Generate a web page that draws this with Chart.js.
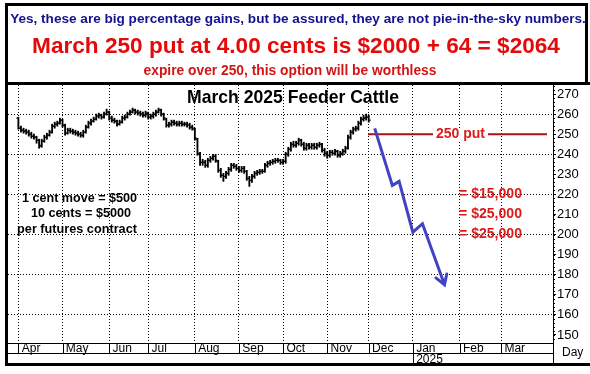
<!DOCTYPE html>
<html>
<head>
<meta charset="utf-8">
<script src="https://cdn.jsdelivr.net/npm/chart.js@4.4.1/dist/chart.umd.min.js"></script>
<style>
  body { margin: 0; background: #fff; }
  canvas { display: block; }
</style>
</head>
<body>
<canvas id="myChart" width="590" height="374"></canvas>
<script>
// March 2025 Feeder Cattle - daily bars, Apr to end of Nov 2024 (x = bar number)
const opens = [258,253,252,251.5,251,250,249,248.5,247,244.5,
  246.5,248.5,249.5,251,254,255,255.5,257,254.5,250.5,
  252,251.5,251,250.5,250,249.5,251,253.5,255.5,256.5,
  257.5,259,259.5,258.5,260,261,258,257,256.5,255,
  256,258,258.5,260,261,262,261,260.5,260,259.5,
  260.5,258.5,259,260,261,262,260,257.5,254.5,255,
  256,255.5,255,255.5,255,255,254.5,253.5,252.5,247.5,
  240,236,236,234.5,237,238,239,236.5,232,229.5,
  229,230.5,232.5,234.5,234,233,232,233,231.5,228,
  227,229,230.5,231,231.5,231.5,234.5,235.5,236,236.5,
  237,237,236,236.5,240,242.5,245,244.5,245.5,247,
  245,243,244.5,243.5,244.5,243.5,244.5,245,242,240.5,
  239.5,241,240.5,241.5,239.5,240.5,241.5,243,248.5,251,
  252.5,253,255.5,257.5,258,258.5]
const highs = [258.5,254,253,252.5,252,251,250,249,247.5,247.5,
  249.5,250.5,252,255,256,256.5,258,257.5,255,253,
  253,252.5,252,251.5,251,252,254.5,256.5,257.5,258.5,
  260,260.5,260,261,262.5,261.5,259,258,257,257,
  259,259.5,261,262,263,262.5,262,261.5,261,261.5,
  261,260,261,262,263,262.5,260.5,258,256,257,
  257,256.5,256.5,256.5,256,256,255.5,254.5,253,248,
  241,237.5,237,238,239,240,240,237,233,230.5,
  231.5,233.5,235.5,235.5,235,234,234,234,232,229,
  230,231.5,232,232.5,232.5,235.5,236.5,237,237.5,238,
  238,237.5,237.5,241,243.5,246,246.5,246.5,248,247.5,
  246,245.5,245.5,245.5,245.5,245.5,246,245.5,243,241.5,
  242,242,242.5,242,241.5,242.5,244,249.5,252,253.5,
  254,256.5,258.5,259.5,260,259.5]
const lows = [252.5,251,250.5,250,249,248,247.5,245.5,243,243.5,
  246,247.5,249,250.5,253,254,255,253.5,249.5,250,
  250.5,250,249.5,249,248.5,248.5,250.5,253,254.5,256,
  257,258,257.5,258,259.5,257,256,255.5,254,254.5,
  255.5,257,258,259.5,260.5,260,259.5,259,258.5,258.5,
  257.5,257.5,258,259,260.5,259,257,253.5,253.5,254,
  254.5,254,254,254,254,253.5,252.5,252,247,239.5,
  234.5,234.5,233.5,233.5,236,237,236,231,228.5,226.5,
  228,229.5,231.5,233,232,231,231,230.5,227,224,
  226,228,229.5,230,230.5,231,233.5,234.5,235,235.5,
  236,235,235,235.5,239,241.5,243.5,243.5,244.5,244,
  242,242,242.5,242.5,242.5,242.5,243.5,241,239,238,
  238.5,239.5,239.5,238.5,238.5,239.5,240.5,242.5,247.5,250,
  251.5,252,254.5,256.5,257,256]
const closes = [253,252,251.5,251,250,249,248.5,247,244,246.5,
  248.5,249.5,251,254,255,255.5,257,254.5,250.5,252,
  251.5,251,250.5,250,249.5,251,253.5,255.5,256.5,257.5,
  259,259.5,258.5,260,261,258,257,256.5,255,256,
  258,258.5,260,261,262,261,260.5,260,259.5,260.5,
  258.5,259,260,261,262,260,258,254.5,255,256,
  255.5,255,255.5,255,255,254.5,253.5,253,248,240.5,
  236,236,234.5,237,238,239,237,232,229.5,229,
  230.5,232.5,234.5,234,233,232,233,231.5,228,227,
  229,230.5,231,231.5,231.5,234.5,235.5,236,236.5,237,
  237,236,236.5,240,242.5,245,244.5,245.5,247,245,
  243,244.5,243.5,244.5,243.5,244.5,245,242,240.5,239.5,
  241,240.5,241.5,239.5,240.5,241.5,243,248.5,251,252.5,
  253,255.5,257.5,258,258.5,257]

const monthStarts = [0, 17, 35, 50, 68, 85, 102, 119, 135, 152, 170, 186]
const monthLabels = ['Apr','May','Jun','Jul','Aug','Sep','Oct','Nov','Dec','Jan','Feb','Mar']
const yearLabel = '2025'
const yearAt = 9
const priceTicks = [150,160,170,180,190,200,210,220,230,240,250,260,270]

const putStrike = 250
const putLineX = [134.7, 203.7]
const arrowX = [137.3, 144.1, 146.7, 152.0, 155.7, 164.2]
const arrowY = [252.9, 224.5, 226.5, 201.2, 205.4, 175]

const headline1 = 'Yes, these are big percentage gains, but be assured, they are not pie-in-the-sky numbers.'
const headline2 = 'March 250 put at 4.00 cents is $2000 + 64 = $2064'
const headline3 = 'expire over 250, this option will be worthless'
const chartTitle = 'March 2025 Feeder Cattle'
const noteLines = ['1 cent move = $500', '10 cents = $5000', 'per futures contract']
const gainLines = ['= $15,000', '= $25,000', '= $25,000']
const putLabel = '250 put'

const FONT = '"Liberation Sans", Arial, sans-serif'
const BLUE = '#4242c2'
Chart.defaults.font.family = FONT
Chart.defaults.color = '#000'

// draw text so that it covers a given width
function fitText(ctx, text, cx, cy, width, color, weight) {
  ctx.font = weight + ' 100px ' + FONT
  let size = 100 * width / ctx.measureText(text).width
  ctx.font = weight + ' ' + size.toFixed(2) + 'px ' + FONT
  ctx.fillStyle = color
  ctx.textAlign = 'center'
  ctx.textBaseline = 'middle'
  ctx.fillText(text, cx, cy)
}

const decor = {
  id: 'decor',
  afterDatasetsDraw(chart) {
    const ctx = chart.ctx
    const ys = chart.scales.y
    // arrow head on the blue projection
    const pts = chart.getDatasetMeta(0).data
    const a = pts[pts.length - 2], b = pts[pts.length - 1]
    const ang = Math.atan2(b.y - a.y, b.x - a.x)
    ctx.save()
    ctx.strokeStyle = BLUE
    ctx.lineWidth = 3
    ctx.lineCap = 'round'
    ctx.beginPath()
    ctx.moveTo(b.x + 11 * Math.cos(ang + Math.PI - 0.55), b.y + 11 * Math.sin(ang + Math.PI - 0.55))
    ctx.lineTo(b.x, b.y)
    ctx.lineTo(b.x + 11 * Math.cos(ang + Math.PI + 0.55), b.y + 11 * Math.sin(ang + Math.PI + 0.55))
    ctx.stroke()
    // 250 put label sitting on the line
    const py = ys.getPixelForValue(putStrike)
    ctx.fillStyle = '#fff'
    ctx.fillRect(433, py - 6, 55, 12)
    fitText(ctx, putLabel, 460.5, py, 49, '#dd1c1c', 'bold')
    ctx.restore()
  },
  afterDraw(chart) {
    const ctx = chart.ctx
    const xs = chart.scales.x, ys = chart.scales.y
    const area = chart.chartArea
    ctx.save()

    // header
    fitText(ctx, headline1, 298, 19, 576, '#12128e', 'bold')
    fitText(ctx, headline2, 296, 47, 528, '#e40a0a', 'bold')
    fitText(ctx, headline3, 290, 71, 293, '#d41414', 'bold')

    // chart texts
    fitText(ctx, chartTitle, 293, 98, 212, '#000', 'bold')
    fitText(ctx, noteLines[0], 79.5, 199, 115, '#000', 'bold')
    fitText(ctx, noteLines[1], 81, 214, 100, '#000', 'bold')
    fitText(ctx, noteLines[2], 77, 229, 120, '#000', 'bold')
    for (let i = 0; i < gainLines.length; i++) {
      fitText(ctx, gainLines[i], 490.5, 194 + i * 20, 63, '#e01818', 'bold')
    }

    // minor ticks on price axis
    ctx.strokeStyle = '#000'
    ctx.lineWidth = 1
    ctx.beginPath()
    for (let v = 148; v <= 274; v += 2) {
      const yy = Math.round(ys.getPixelForValue(v)) + 0.5
      ctx.moveTo(area.right, yy)
      ctx.lineTo(area.right + 2, yy)
    }
    ctx.stroke()

    // month boxes under the plot
    const rowTop = area.bottom
    ctx.beginPath()
    ctx.moveTo(8, rowTop + 10.5)
    ctx.lineTo(area.right, rowTop + 10.5)
    for (let i = 0; i < monthStarts.length; i++) {
      const xx = Math.round(xs.getPixelForValue(monthStarts[i])) + 0.5
      ctx.moveTo(xx, rowTop)
      ctx.lineTo(xx, i === yearAt ? 363 : rowTop + 10)
    }
    ctx.moveTo(area.right + 0.5, rowTop)
    ctx.lineTo(area.right + 0.5, 363)
    ctx.stroke()

    ctx.font = '12px ' + FONT
    ctx.fillStyle = '#000'
    ctx.textAlign = 'left'
    ctx.textBaseline = 'middle'
    ctx.fillText('Day', 562, 353)

    // frame
    ctx.fillStyle = '#000'
    ctx.fillRect(5, 3, 3, 363)
    ctx.fillRect(5, 3, 583, 3)
    ctx.fillRect(585, 3, 3, 82)
    ctx.fillRect(5, 82, 585, 3)
    ctx.fillRect(5, 363, 585, 3)
    ctx.restore()
  }
}

const ctx = document.getElementById('myChart')

let data = {
  datasets: [
    {
      type: 'line',
      data: arrowX.map((x, i) => ({ x: x, y: arrowY[i] })),
      borderColor: BLUE,
      borderWidth: 3,
      pointRadius: 0,
      tension: 0
    },
    {
      type: 'line',
      data: putLineX.map(x => ({ x: x, y: putStrike })),
      borderColor: '#a51515',
      borderWidth: 2,
      pointRadius: 0
    },
    {
      type: 'scatter',
      data: opens.map((o, i) => ({ x: i - 0.4, y: o })),
      pointStyle: 'line',
      pointRadius: 1.1,
      pointBorderColor: '#000',
      pointBorderWidth: 1
    },
    {
      type: 'scatter',
      data: closes.map((c, i) => ({ x: i + 0.4, y: c })),
      pointStyle: 'line',
      pointRadius: 1.1,
      pointBorderColor: '#000',
      pointBorderWidth: 1
    },
    {
      type: 'bar',
      data: highs.map((h, i) => ({ x: i, y: [lows[i], h] })),
      backgroundColor: '#000',
      barThickness: 1.2,
      grouped: false
    }
  ]
}

let chart = new Chart(ctx, {
  type: 'bar',
  data: data,
  plugins: [decor],
  options: {
    responsive: false,
    animation: false,
    layout: { padding: { left: 8, top: 85, right: 3, bottom: 10 } },
    plugins: { legend: { display: false }, tooltip: { enabled: false } },
    scales: {
      x: {
        type: 'linear',
        min: -4,
        max: 206,
        offset: false,
        afterBuildTicks: s => { s.ticks = monthStarts.map(v => ({ value: v })) },
        afterFit: s => { s.height = 21 },
        grid: { color: '#000', lineWidth: 1, drawTicks: false, offset: false },
        border: { color: '#000', width: 1, dash: [1, 2] },
        ticks: {
          autoSkip: false,
          maxRotation: 0,
          minRotation: 0,
          align: 'start',
          padding: 0,
          font: { size: 12, lineHeight: '11px' },
          callback: (v, i) => i === yearAt ? [' ' + monthLabels[i], ' ' + yearLabel] : ' ' + monthLabels[i]
        }
      },
      y: {
        position: 'right',
        min: 146,
        max: 274.5,
        afterBuildTicks: s => { s.ticks = priceTicks.map(v => ({ value: v })) },
        afterFit: s => { s.width = 34 },
        grid: {
          color: c => (c.tick && c.tick.value % 20 === 0) ? '#000' : 'rgba(0,0,0,0)',
          tickColor: '#000',
          tickLength: 3
        },
        border: { color: '#000', width: 1, dash: [1, 2] },
        ticks: { padding: 1, font: { size: 13 } }
      }
    }
  }
})
</script>
</body>
</html>
